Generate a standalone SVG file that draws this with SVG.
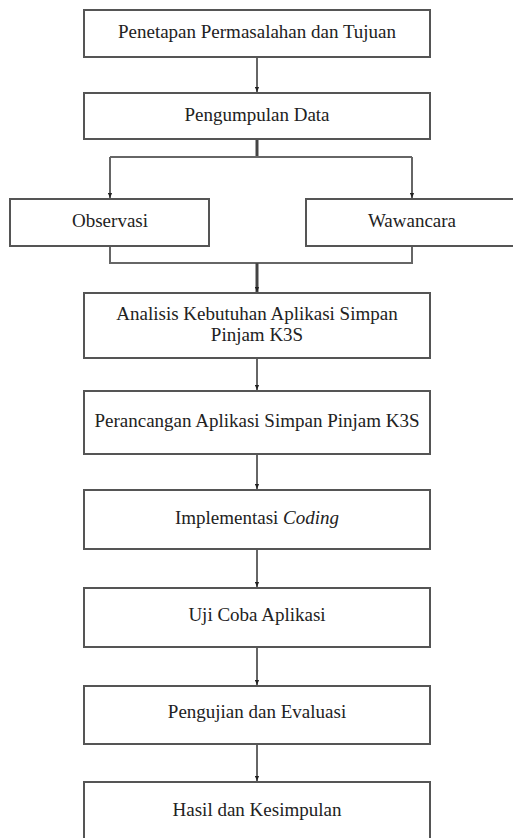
<svg xmlns="http://www.w3.org/2000/svg" width="513" height="838" viewBox="0 0 513 838">
<defs>
<marker id="ah" viewBox="0 0 6 6" refX="6" refY="3" markerWidth="5" markerHeight="5" markerUnits="userSpaceOnUse" orient="auto">
<path d="M0,0.5 L6,3 L0,5.5 Z" fill="#222"/>
</marker>
<style>
.box{fill:#fff;stroke:#555;stroke-width:2}
.t{font-family:"Liberation Serif","Times New Roman",serif;font-size:19px;fill:#222;text-anchor:middle}
.c{fill:none;stroke:#666;stroke-width:2}
.k{stroke:#444;stroke-width:3}
.a{marker-end:url(#ah)}
</style>
</defs>
<rect width="513" height="838" fill="#fff"/>
<g id="connectors">
<line class="c a" x1="257" y1="57" x2="257" y2="92"/>
<line class="c k" x1="257" y1="139" x2="257" y2="157"/>
<line class="c" x1="110" y1="157" x2="412" y2="157"/>
<line class="c a" x1="110" y1="157" x2="110" y2="198"/>
<line class="c a" x1="412" y1="157" x2="412" y2="198"/>
<polyline class="c" points="110,246 110,263 412,263 412,246"/>
<line class="c k a" x1="257" y1="263" x2="257" y2="292"/>
<line class="c a" x1="257" y1="358" x2="257" y2="390"/>
<line class="c a" x1="257" y1="454" x2="257" y2="489"/>
<line class="c a" x1="257" y1="549" x2="257" y2="587"/>
<line class="c a" x1="257" y1="647" x2="257" y2="685"/>
<line class="c a" x1="257" y1="744" x2="257" y2="781"/>
</g>
<g id="n1"><rect class="box" x="84" y="10" width="346" height="47"/><text class="t" x="257" y="38">Penetapan Permasalahan dan Tujuan</text></g>
<g id="n2"><rect class="box" x="84" y="93" width="346" height="46"/><text class="t" x="257" y="121">Pengumpulan Data</text></g>
<g id="n3"><rect class="box" x="10" y="199" width="199" height="47"/><text class="t" x="110" y="227">Observasi</text></g>
<g id="n4"><rect class="box" x="306" y="199" width="220" height="47"/><text class="t" x="412" y="227">Wawancara</text></g>
<g id="n5"><rect class="box" x="84" y="293" width="346" height="65"/><text class="t" x="257" y="320">Analisis Kebutuhan Aplikasi Simpan</text><text class="t" x="257" y="341">Pinjam K3S</text></g>
<g id="n6"><rect class="box" x="84" y="391" width="346" height="63"/><text class="t" x="257" y="427">Perancangan Aplikasi Simpan Pinjam K3S</text></g>
<g id="n7"><rect class="box" x="84" y="490" width="346" height="59"/><text class="t" x="257" y="524">Implementasi <tspan font-style="italic">Coding</tspan></text></g>
<g id="n8"><rect class="box" x="84" y="588" width="346" height="59"/><text class="t" x="257" y="621">Uji Coba Aplikasi</text></g>
<g id="n9"><rect class="box" x="84" y="686" width="346" height="58"/><text class="t" x="257" y="718">Pengujian dan Evaluasi</text></g>
<g id="n10"><rect class="box" x="84" y="782" width="346" height="70"/><text class="t" x="257" y="816">Hasil dan Kesimpulan</text></g>
</svg>
